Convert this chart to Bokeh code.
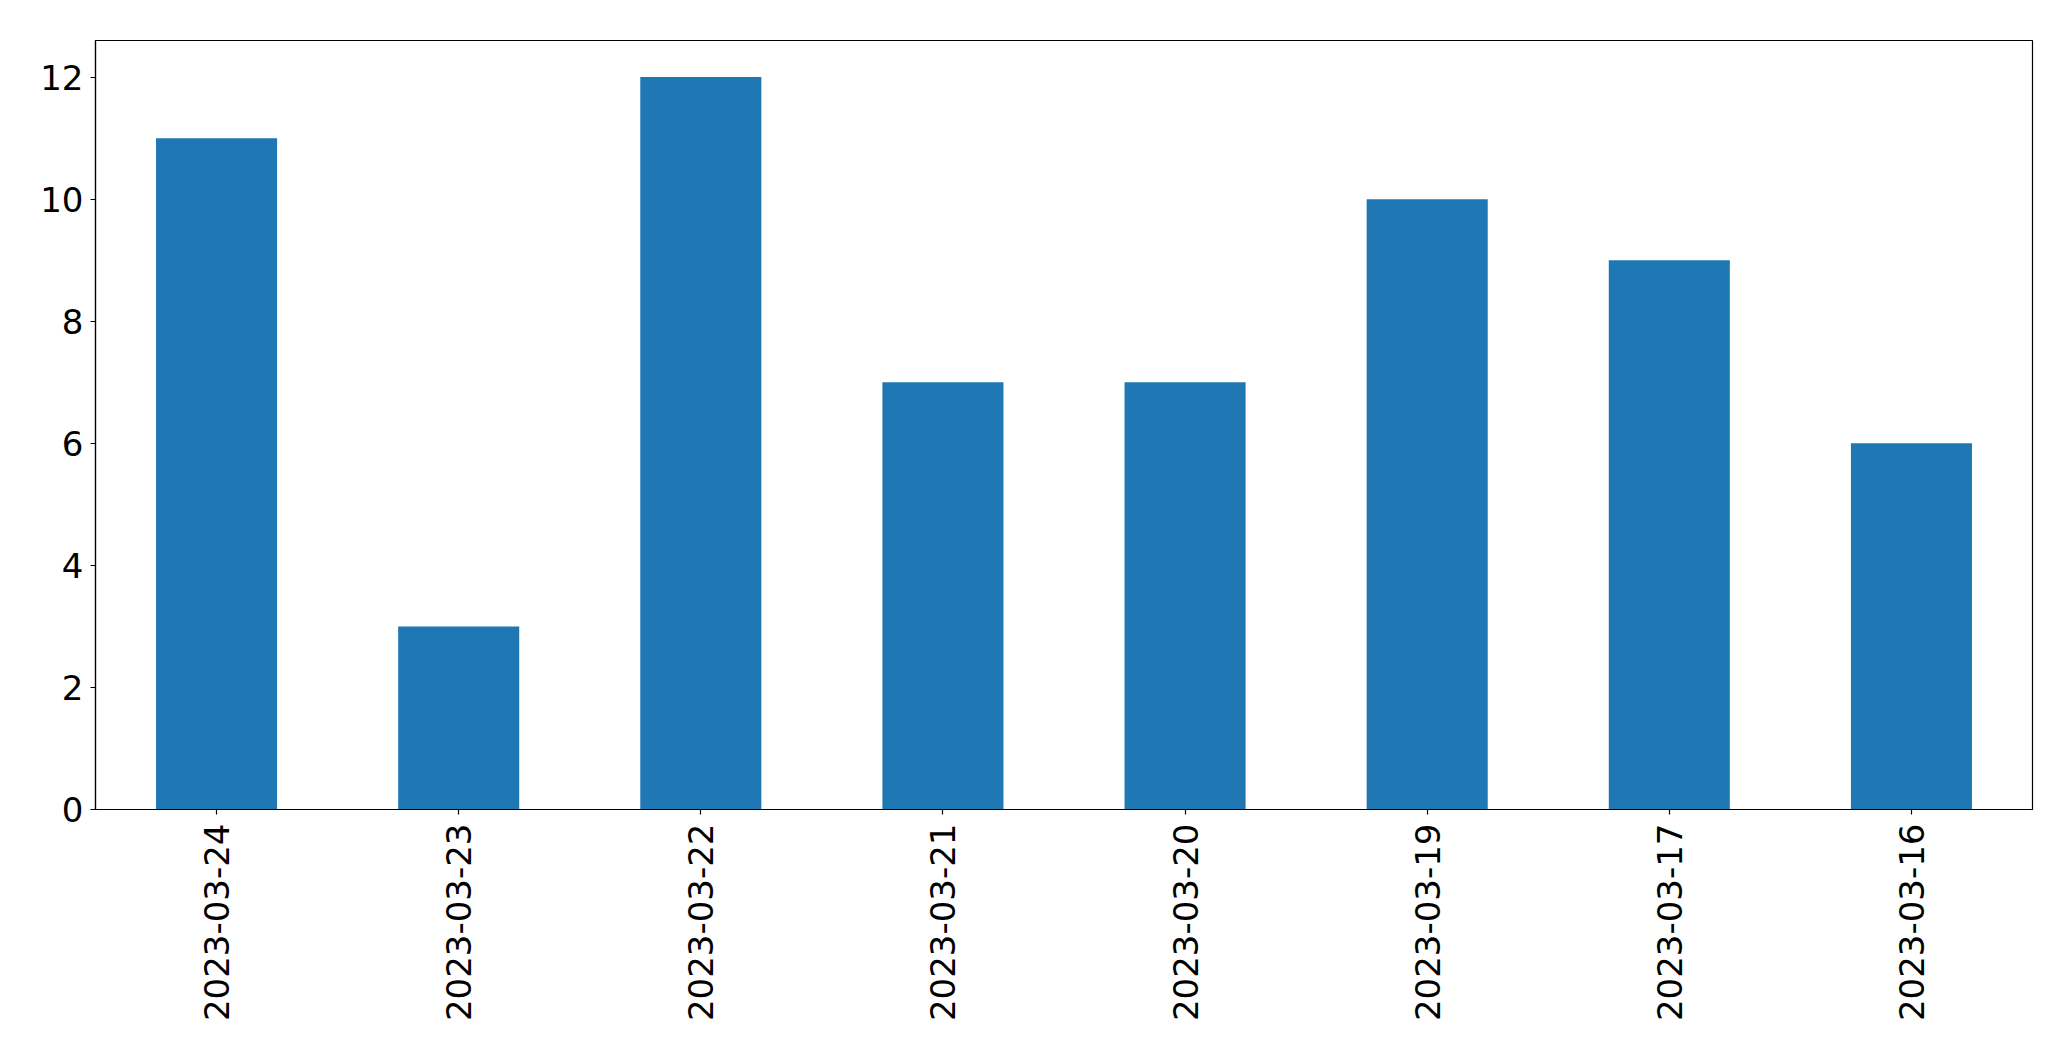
import math
from bokeh.plotting import figure
from bokeh.models import FactorRange, Range1d, FixedTicker
from bokeh.embed import file_html
from bokeh.resources import INLINE

dates = ["2023-03-24", "2023-03-23", "2023-03-22", "2023-03-21",
         "2023-03-20", "2023-03-19", "2023-03-17", "2023-03-16"]
counts = [11, 3, 12, 7, 7, 10, 9, 6]
y_ticks = [0, 2, 4, 6, 8, 10, 12]

p = figure(width=2055, height=1045,
           x_range=FactorRange(factors=dates, range_padding=0),
           y_range=Range1d(0, 12.6),
           output_backend="svg", toolbar_location=None,
           min_border_left=95, min_border_right=23,
           min_border_top=40, min_border_bottom=236)

p.vbar(x=dates, top=counts, width=0.5, color="#1f77b4", line_color=None)

p.xgrid.visible = False
p.ygrid.visible = False
p.outline_line_color = "black"
p.outline_line_width = 1.2
p.outline_line_alpha = 1.0

p.yaxis.ticker = FixedTicker(ticks=y_ticks)
for ax in (p.xaxis, p.yaxis):
    ax.axis_line_color = "black"
    ax.axis_line_width = 1.2
    ax.major_tick_line_color = "black"
    ax.major_tick_line_width = 1.2
    ax.major_tick_out = 5
    ax.major_tick_in = 0
    ax.minor_tick_line_color = None
    ax.major_label_text_font = "DejaVu Sans"
    ax.major_label_text_font_size = "34px"
    ax.major_label_text_color = "black"

p.yaxis.major_label_standoff = 7
p.xaxis.major_label_standoff = 9
p.xaxis.major_label_orientation = math.pi / 2
p.background_fill_color = "white"
p.border_fill_color = "white"

open("out.html", "w").write(file_html(p, INLINE))
